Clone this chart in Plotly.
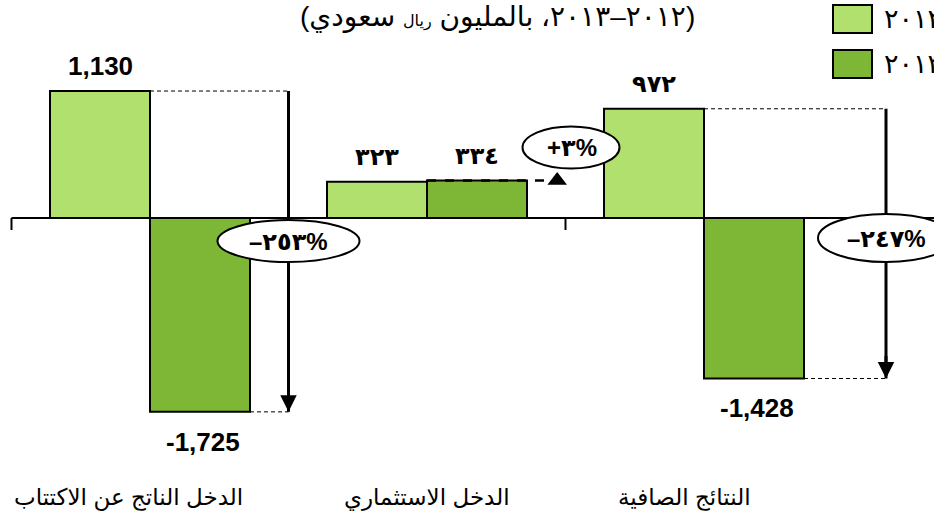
import plotly.graph_objects as go

# --- data ---
categories = ["الدخل الناتج عن الاكتتاب", "الدخل الاستثماري", "النتائج الصافية"]
series_names = ["٢٠١٢", "٢٠١٣"]
values_2012 = [1130, 323, 972]
values_2013 = [-1725, 334, -1428]
labels_2012 = ["1,130", "٣٢٣", "٩٧٢"]
labels_2013 = ["-1,725", "٣٣٤", "-1,428"]
change_labels = ["–٢٥٣%", "+٣%", "–٢٤٧%"]
title_text = "(٢٠١٢–٢٠١٣، بالمليون <span style='font-size:16px'>ريال</span> سعودي)"

COLOR_2012 = "#B1E06E"
COLOR_2013 = "#7DB735"
BARGAP = 0.278
W = (1 - BARGAP) / 2          # width of one bar in category units
FONT = "Liberation Sans, DejaVu Sans, Arial"

x_pos = list(range(len(categories)))

fig = go.Figure()
fig.add_trace(go.Bar(x=x_pos, y=values_2012, name=series_names[0], marker_color=COLOR_2012,
                     marker_line=dict(color="black", width=2)))
fig.add_trace(go.Bar(x=x_pos, y=values_2013, name=series_names[1], marker_color=COLOR_2013,
                     marker_line=dict(color="black", width=2)))

shapes = []
annotations = []

# zero axis line with tick marks at category boundaries
shapes.append(dict(type="line", xref="x", yref="y", x0=-0.5, x1=3.2, y0=0, y1=0,
                   line=dict(color="black", width=2)))
for b in [-0.5, 0.5, 1.5, 2.5]:
    shapes.append(dict(type="line", xref="x", yref="y", x0=b, x1=b, ysizemode="pixel",
                       yanchor=0, y0=0, y1=-12, line=dict(color="black", width=2)))

# value labels
for i in x_pos:
    for val, lab, off in [(values_2012[i], labels_2012[i], -W / 2), (values_2013[i], labels_2013[i], W / 2)]:
        western = lab[-1].isascii()
        annotations.append(dict(x=i + off, y=val, xref="x", yref="y", text=f"<b>{lab}</b>",
                                showarrow=False, yanchor="middle",
                                yshift=25 if val > 0 else -30, xshift=0 if val > 0 else 3,
                                font=dict(size=26 if western else 24, color="black", family=FONT)))


def change_marker(i, x_arrow, ell_w, ell_h, ell_dy):
    """dashed guides, vertical arrow and the % change ellipse for a category"""
    v1, v2 = values_2012[i], values_2013[i]
    dash = dict(color="black", width=1, dash="4px,3px")
    shapes.append(dict(type="line", xref="x", yref="y", x0=i, x1=x_arrow, y0=v1, y1=v1, line=dash))
    shapes.append(dict(type="line", xref="x", yref="y", x0=i + W, x1=x_arrow, y0=v2, y1=v2, line=dash))
    shapes.append(dict(type="line", xref="x", yref="y", x0=x_arrow, x1=x_arrow, y0=v1, y1=v2,
                       line=dict(color="black", width=3)))
    annotations.append(dict(x=x_arrow, y=v2, xref="x", yref="y", ax=0, ay=-24, text="",
                            showarrow=True, arrowhead=2, arrowsize=1.1, arrowwidth=3,
                            arrowcolor="black", standoff=0))
    shapes.append(dict(type="circle", xref="x", yref="y", xsizemode="pixel", ysizemode="pixel",
                       xanchor=x_arrow, yanchor=0, x0=-ell_w / 2, x1=ell_w / 2,
                       y0=-ell_dy - ell_h / 2, y1=-ell_dy + ell_h / 2,
                       fillcolor="white", line=dict(color="black", width=2)))
    annotations.append(dict(x=x_arrow, y=0, xref="x", yref="y", yshift=-ell_dy,
                            text=f"<b>{change_labels[i]}</b>", showarrow=False,
                            font=dict(size=24, color="black", family=FONT)))


change_marker(0, 0.5, 142, 42, 23)
change_marker(2, 2.657, 136, 48, 20)

# investment income: small rise
v = values_2013[1]
shapes.append(dict(type="line", xref="x", yref="y", x0=1, x1=1.45, y0=v, y1=v,
                   line=dict(color="black", width=2.5, dash="dash")))
fig.add_trace(go.Scatter(x=[1.47], y=[v], mode="markers", showlegend=False, hoverinfo="skip",
                         marker=dict(symbol="triangle-up", size=17, color="black")))
shapes.append(dict(type="circle", xref="x", yref="y", xsizemode="pixel", ysizemode="pixel",
                   xanchor=1.5, yanchor=v, x0=-43, x1=54, y0=12, y1=54,
                   fillcolor="white", line=dict(color="black", width=2)))
annotations.append(dict(x=1.5, y=v, xref="x", yref="y", yshift=33, xshift=6,
                        text=f"<b>{change_labels[1]}</b>", showarrow=False,
                        font=dict(size=24, color="black", family=FONT)))

# category labels along the bottom
for i, (cat, dx) in enumerate(zip(categories, [-22, 0, -20])):
    annotations.append(dict(x=i, y=1 - 497 / 522, xref="x", yref="paper", yanchor="middle",
                            text=cat, showarrow=False, xshift=dx,
                            font=dict(size=23, color="black", family=FONT)))

# title, clipped at the top like the source
annotations.append(dict(x=0.533, y=1, xref="paper", yref="paper", yanchor="middle", yshift=-17,
                        text=title_text, showarrow=False,
                        font=dict(size=28, color="black", family=FONT)))

# hand-drawn legend (large swatches, labels run off the right edge)
for k, (name, col) in enumerate(zip(series_names, [COLOR_2012, COLOR_2013])):
    top = 5 + 45 * k
    shapes.append(dict(type="rect", xref="paper", yref="paper",
                       x0=833 / 934, x1=872 / 934, y0=1 - top / 522, y1=1 - (top + 28) / 522,
                       fillcolor=col, line=dict(color="black", width=2)))
    annotations.append(dict(x=882 / 934, y=1 - (top + 14) / 522, xref="paper", yref="paper",
                            xanchor="left", yanchor="middle", text=name, showarrow=False,
                            font=dict(size=27, color="black", family=FONT)))

fig.update_layout(
    width=934, height=522,
    barmode="group", bargap=BARGAP, bargroupgap=0,
    showlegend=False,
    plot_bgcolor="white", paper_bgcolor="white",
    margin=dict(l=0, r=0, t=0, b=0, autoexpand=False),
    xaxis=dict(visible=False, range=[-0.5415, 2.8303]),
    yaxis=dict(visible=False, range=[-2705, 1940]),
    shapes=shapes, annotations=annotations,
)

# drop the default page margin so the chart sits at the window's top-left corner
fig.write_html("out.html", config={"displayModeBar": False},
               post_script="document.body.style.margin='0';")
